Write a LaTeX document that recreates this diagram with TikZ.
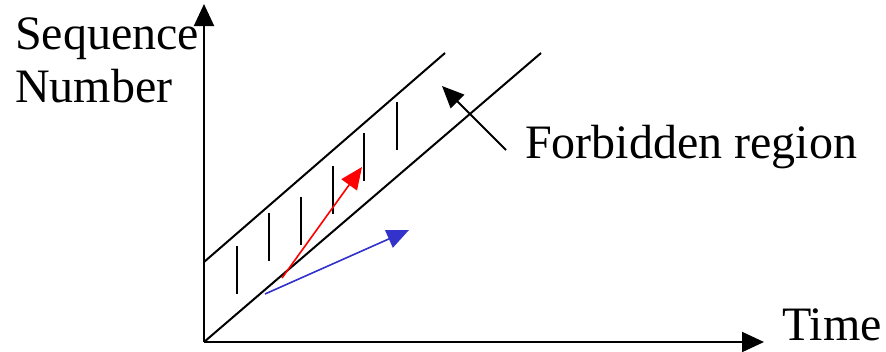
\documentclass[tikz,border=0pt]{standalone}
\usepackage{fontspec}
\setmainfont{Liberation Serif}
\usetikzlibrary{arrows.meta}
\definecolor{fwdRed}{HTML}{FF0000}
\definecolor{bwdBlue}{HTML}{3333CC}

\begin{document}
\begin{tikzpicture}[
  x=1pt, y=-1pt,
  font=\fontsize{48}{53}\selectfont,
  axis/.style={-{Triangle[length=22pt, width=20pt]}, line width=2pt},
  band/.style={line width=2pt},
  hatch/.style={line width=2pt},
  pkt/.style={-{Triangle[length=22pt, width=19pt]}, line width=2pt},
  lbl/.style={inner sep=0pt, anchor=base west},
]
\useasboundingbox (0,0) rectangle (886,351);

% Axes
\coordinate (o) at (204,342);
\coordinate (ytop) at (204,4);
\coordinate (xend) at (764,342);
\draw[axis] (o) -- (ytop);
\draw[axis] (o) -- (xend);
\node[lbl, align=left] (seqnum) at (15,102) {Sequence\\Number};
\node[lbl] (time) at (782,340) {Time};

% Window band
\coordinate (lowEnd) at (541,53);
\coordinate (upStart) at (204,262);
\coordinate (upEnd) at (445,53);
\draw[band] (o) -- (lowEnd);
\draw[band] (upStart) -- (upEnd);

% Hatching inside the band
\foreach \hx/\hy in {237/246, 269/213, 301/197, 333/166, 364/133, 397/102}
  \draw[hatch] (\hx,\hy) -- ++(0,48);

% Forbidden region pointer
\node[lbl] (forbid) at (525,158) {Forbidden region};
\coordinate (forbidTail) at (506,150);
\coordinate (forbidTip) at (442,86);
\draw[pkt] (forbidTail) -- (forbidTip);

% Packet arrows
\coordinate (redStart) at (282,278);
\coordinate (redTip) at (362,167);
\draw[pkt, fwdRed, line width=1.6pt] (redStart) -- (redTip);
\coordinate (blueStart) at (265,294);
\coordinate (blueTip) at (409,230);
\draw[pkt, bwdBlue, line width=1.6pt] (blueStart) -- (blueTip);

\end{tikzpicture}
\end{document}
